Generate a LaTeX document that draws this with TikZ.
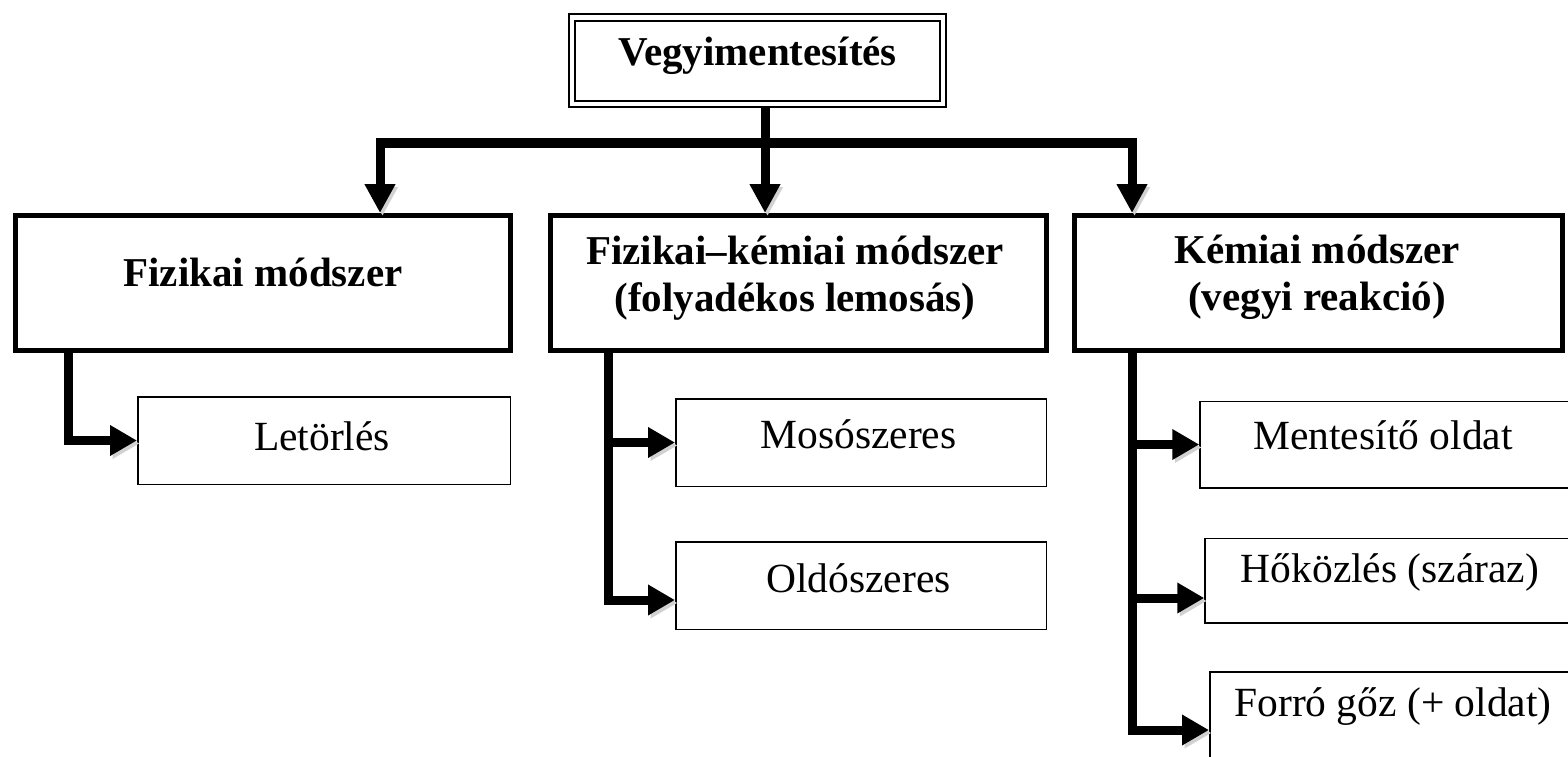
\documentclass[tikz,border=0pt]{standalone}
\usepackage{fontspec}
\setmainfont{Liberation Serif}
\usetikzlibrary{arrows.meta,calc}
\begin{document}
\begin{tikzpicture}[x=1pt,y=-1pt,
  hbox/.style={draw,line width=5pt,inner sep=0pt,minimum height=135pt},
  sbox/.style={draw,line width=1.5pt,inner sep=0pt},
  tbox/.style={draw,line width=2pt,double,double distance=4.5pt,inner sep=0pt,outer sep=4.25pt,minimum width=370.75pt,minimum height=86.5pt},
  btxt/.style={font=\bfseries\fontsize{41}{47}\selectfont,align=center,inner sep=0pt},
  rtxt/.style={font=\fontsize{41.5}{48}\selectfont,inner sep=0pt},
  shadowed/.style={preaction={draw=black!18,transform canvas={shift={(2.5pt,-3pt)}}}},
  arr/.style={line width=9pt,line join=miter,-{Triangle[length=29pt,width=29pt]},shadowed},
  sarr/.style={line width=9pt,line join=miter,-{Triangle[length=27pt,width=29pt]},shadowed},
  ]
\useasboundingbox (0,0) rectangle (1568,757);
\clip (0,0) rectangle (1568,757);
\fill[white] (0,0) rectangle (1568,757);

% top box
\node[tbox] (title) at (757.6,60.75) {};
\node[btxt] (titleT) at ([yshift=5pt]title.center) {Vegyimentesítés};

% level 2 boxes
\node[hbox,minimum width=495pt] (fiz) at (263,283) {};
\node[btxt] (fizT) at (263,272) {Fizikai módszer};
\node[hbox,minimum width=496pt] (mid) at (798.5,283) {};
\node[btxt] (midT) at (795,278) {Fizikai–kémiai módszer\\(folyadékos lemosás)};
\node[hbox,minimum width=488pt] (kem) at (1318.5,283) {};
\node[btxt] (kemT) at (1317,277.5) {Kémiai módszer\\(vegyi reakció)};

% sub boxes
\node[sbox,minimum width=372.5pt,minimum height=87.5pt] (let) at (324,440.5) {};
\node[rtxt] (letT) at (322,436) {Letörlés};
\node[sbox,minimum width=370.5pt,minimum height=87.5pt] (mos) at (861,442.5) {};
\node[rtxt] (mosT) at (858.5,434) {Mosószeres};
\node[sbox,minimum width=370.5pt,minimum height=87.5pt] (old) at (861,585.5) {};
\node[rtxt] (oldT) at (858.5,578) {Oldószeres};
\node[sbox,minimum width=400pt,minimum height=86.5pt] (ment) at (1400,444.5) {};
\node[rtxt] (mentT) at (1383,435) {Mentesítő oldat};
\node[sbox,minimum width=400pt,minimum height=84.5pt] (hok) at (1405,580.5) {};
\node[rtxt] (hokT) at (1390,572) {Hőközlés (száraz)};
\node[sbox,minimum width=400pt,minimum height=116pt] (forro) at (1409.75,730) {};
\node[rtxt] (forroT) at (1393,707) {Forró gőz (+ oldat)};

% top connectors
\coordinate (tb) at ([xshift=7.4pt]title.south);
\coordinate (hub) at (tb |- 0,143);
\coordinate (hubL) at (380,143);
\coordinate (hubR) at (1132,143);
\draw[arr] (tb) -- (tb |- mid.north);
\draw[arr] (hub) -- (hubL) -- (hubL |- fiz.north);
\draw[arr] (hub) -- (hubR) -- (hubR |- kem.north);

% left branch
\coordinate (fl) at ([xshift=55pt]fiz.south west);
\draw[sarr] (fl) |- (let.west);

% middle branch
\coordinate (mt) at ([xshift=60pt]mid.south west);
\coordinate (oldin) at ([yshift=-14.5pt]old.west);
\draw[sarr] (mt |- mos.west) -- (mos.west);
\draw[sarr] (mt) |- (oldin);

% right branch
\coordinate (kt) at ([xshift=60pt]kem.south west);
\coordinate (hokin) at ([yshift=-17.5pt]hok.west);
\draw[sarr] (kt |- ment.west) -- (ment.west);
\draw[sarr] (kt |- hokin) -- (hokin);
\draw[sarr] (kt) |- (forro.west);
\end{tikzpicture}
\end{document}
